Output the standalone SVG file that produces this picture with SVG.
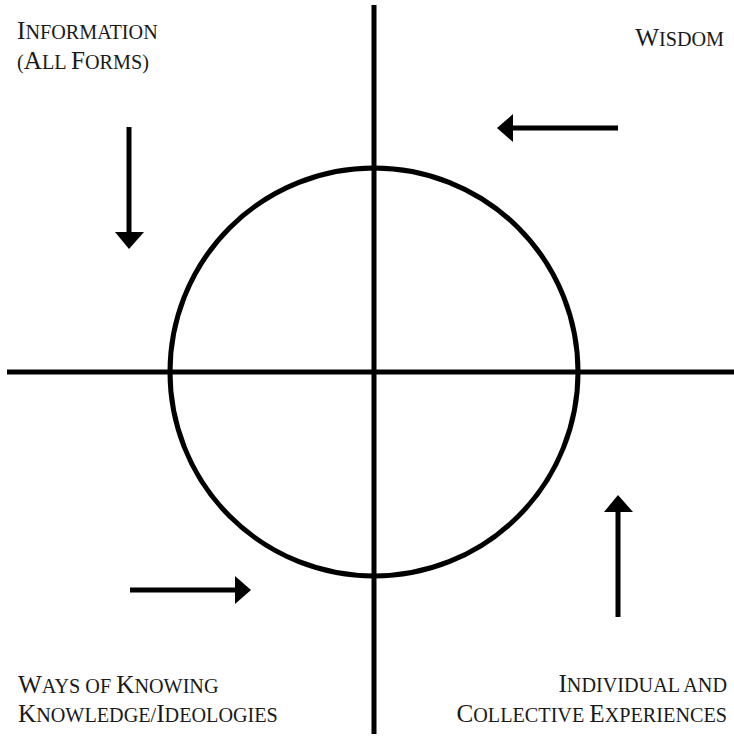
<svg xmlns="http://www.w3.org/2000/svg" width="734" height="737" viewBox="0 0 734 737">
<style>
.ax{stroke:#000;stroke-width:5;fill:none}
.sh{stroke:#000;stroke-width:5}
.hd{fill:#000}
text{font-family:"Liberation Serif","Times New Roman",serif;font-size:20.2px;fill:#1a1a1a}
.c{font-size:25.2px}
</style>
<rect width="734" height="737" fill="#fff"/>
<g id="axes">
<line class="ax" x1="374" y1="5" x2="374" y2="734"/>
<line class="ax" x1="7" y1="372" x2="734" y2="372"/>
</g>
<g id="circle"><circle class="ax" cx="374" cy="372" r="204"/></g>
<g id="arrows">
<line class="sh" x1="129" y1="127" x2="129" y2="234"/>
<polygon class="hd" points="115,232 144,232 129,249"/>
<line class="sh" x1="618" y1="128" x2="511" y2="128"/>
<polygon class="hd" points="513,114 513,142 497,128"/>
<line class="sh" x1="130" y1="590" x2="237" y2="590"/>
<polygon class="hd" points="235,576 235,604 251,590"/>
<line class="sh" x1="618" y1="617" x2="618" y2="510"/>
<polygon class="hd" points="604,512 633,512 618,495"/>
</g>
<g id="info">
<text x="17" y="39"><tspan class="c">I</tspan>NFORMATION</text>
<text x="17" y="69">(<tspan class="c">A</tspan>LL <tspan class="c">F</tspan>ORMS)</text>
</g>
<g id="wisdom">
<text x="724" y="46" text-anchor="end"><tspan class="c">W</tspan>ISDOM</text>
</g>
<g id="ways">
<text x="18" y="693"><tspan class="c">W</tspan>AYS OF <tspan class="c">K</tspan>NOWING</text>
<text x="18" y="722"><tspan class="c">K</tspan>NOWLEDGE/<tspan class="c">I</tspan>DEOLOGIES</text>
</g>
<g id="experiences">
<text x="727" y="692" text-anchor="end"><tspan class="c">I</tspan>NDIVIDUAL AND</text>
<text x="727" y="722" text-anchor="end"><tspan class="c">C</tspan>OLLECTIVE <tspan class="c">E</tspan>XPERIENCES</text>
</g>
</svg>
